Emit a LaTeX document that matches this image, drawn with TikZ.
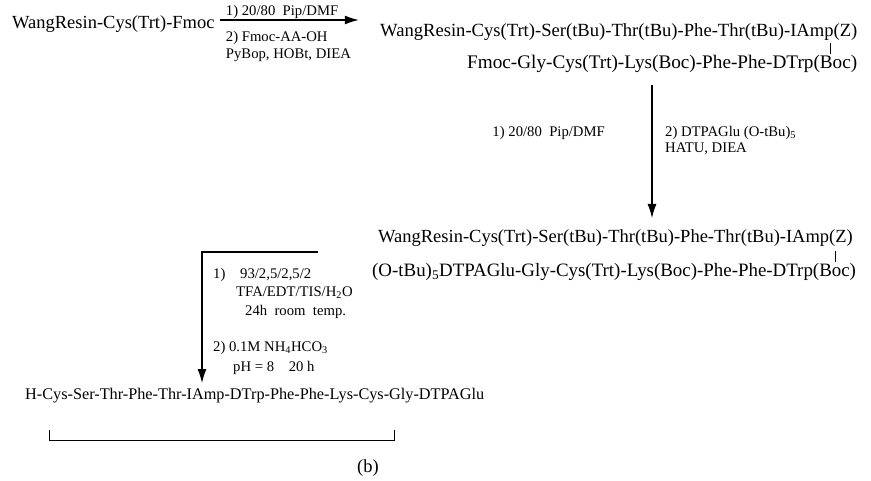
\documentclass[tikz,border=0pt]{standalone}
\usepackage{fontspec}
\setmainfont{Liberation Serif}
\usetikzlibrary{arrows.meta, calc}
\tikzset{
    my-chain/.style={
        font=\fontsize{#1}{20}\selectfont, inner sep=0pt, anchor=west
    },
    my-chain/.default=18.5,
    my-cond/.style={
        font=\fontsize{14.7}{16}\selectfont, inner sep=0pt, anchor=west
    },
    my-arrow/.style={
        -{Latex[length=14pt, width=9pt]}, line width=1.1pt
    },
    my-tick/.style={
        line width=0.6pt
    },
}
\begin{document}
\begin{tikzpicture}[x=1pt, y=-1pt]

        \useasboundingbox (0, 0) rectangle (871, 481);

        % STEP 1 - CHAIN ASSEMBLY ---------------------------------------------------------------------

        % START RESIN
        \node[my-chain] (START) at (12, 24) {WangResin-Cys(Trt)-Fmoc};

        % ARROW AND CONDITIONS
        \coordinate[] (ARROW1IN)  at ($(START.east) + (5, -4)$);
        \coordinate[] (ARROW1OUT) at ($(ARROW1IN)   + (139, 0)$);
        \draw[my-arrow] (ARROW1IN) -- (ARROW1OUT);
        \node[my-cond] (COND1A) at ($(ARROW1IN) + (6, -8)$)  {1) 20/80~~Pip/DMF};
        \node[my-cond] (COND1B) at ($(ARROW1IN) + (6, 18)$)  {2) Fmoc-AA-OH};
        \node[my-cond] (COND1C) at ($(ARROW1IN) + (6, 35)$)  {PyBop, HOBt, DIEA};

        % PROTECTED PEPTIDE
        \node[my-chain=18.6] (PROD1A) at (380, 32) {WangResin-Cys(Trt)-Ser(tBu)-Thr(tBu)-Phe-Thr(tBu)-IAmp(Z)};
        \node[my-chain=19.2] (PROD1B) at (467, 64) {Fmoc-Gly-Cys(Trt)-Lys(Boc)-Phe-Phe-DTrp(Boc)};
        \coordinate[] (TICK1TOP) at (830, 43);
        \coordinate[] (TICK1BOT) at (830, 54);
        \draw[my-tick] (TICK1TOP) -- (TICK1BOT);

        % STEP 2 - DTPAGLU COUPLING -------------------------------------------------------------------

        % ARROW AND CONDITIONS
        \coordinate[] (ARROW2IN)  at (652, 85);
        \coordinate[] (ARROW2OUT) at (652, 218);
        \draw[my-arrow] (ARROW2IN) -- (ARROW2OUT);
        \node[my-cond, anchor=east] (COND2A) at ($(ARROW2IN) + (-47, 48)$) {1) 20/80~~Pip/DMF};
        \node[my-cond] (COND2B) at ($(ARROW2IN) + (13, 48)$) {2) DTPAGlu (O-tBu)\textsubscript{5}};
        \node[my-cond] (COND2C) at ($(ARROW2IN) + (13, 64)$) {HATU, DIEA};

        % PROTECTED CONJUGATE
        \node[my-chain] (PROD2A) at (378, 238) {WangResin-Cys(Trt)-Ser(tBu)-Thr(tBu)-Phe-Thr(tBu)-IAmp(Z)};
        \node[my-chain=18.9] (PROD2B) at (372, 272) {(O-tBu)\textsubscript{5}DTPAGlu-Gly-Cys(Trt)-Lys(Boc)-Phe-Phe-DTrp(Boc)};
        \coordinate[] (TICK2TOP) at (835, 251);
        \coordinate[] (TICK2BOT) at (835, 262);
        \draw[my-tick] (TICK2TOP) -- (TICK2BOT);

        % STEP 3 - CLEAVAGE AND CYCLIZATION -----------------------------------------------------------

        % ARROW AND CONDITIONS
        \coordinate[] (ARROW3IN)     at (318, 252);
        \coordinate[] (ARROW3CORNER) at (202, 252);
        \coordinate[] (ARROW3OUT)    at (202, 383);
        \draw[my-arrow] (ARROW3IN) -- (ARROW3CORNER) -- (ARROW3OUT);
        \node[my-cond] (COND3A) at ($(ARROW3CORNER) + (11, 23)$)  {1)};
        \node[my-cond] (COND3B) at ($(ARROW3CORNER) + (38, 23)$)  {93/2,5/2,5/2};
        \node[my-cond] (COND3C) at ($(ARROW3CORNER) + (34, 41)$)  {TFA/EDT/TIS/H\textsubscript{2}O};
        \node[my-cond] (COND3D) at ($(ARROW3CORNER) + (43, 60)$)  {24h~~room~~temp.};
        \node[my-cond] (COND3E) at ($(ARROW3CORNER) + (11, 96)$)  {2) 0.1M NH\textsubscript{4}HCO\textsubscript{3}};
        \node[my-cond] (COND3F) at ($(ARROW3CORNER) + (31, 116)$) {pH = 8~~~~20 h};

        % CYCLIC PRODUCT
        \node[my-chain=16.25] (FINAL) at (25, 396) {H-Cys-Ser-Thr-Phe-Thr-IAmp-DTrp-Phe-Phe-Lys-Cys-Gly-DTPAGlu};
        \coordinate[] (BRIDGEL)    at (49, 430);
        \coordinate[] (BRIDGELBOT) at (49, 440);
        \coordinate[] (BRIDGER)    at (394, 430);
        \coordinate[] (BRIDGERBOT) at (394, 440);
        \draw[my-tick] (BRIDGEL) -- (BRIDGELBOT) -- (BRIDGERBOT) -- (BRIDGER);

        % PANEL LABEL
        \node[my-chain, anchor=center] (PANEL) at (368, 468) {(b)};

    \end{tikzpicture}
\end{document}
